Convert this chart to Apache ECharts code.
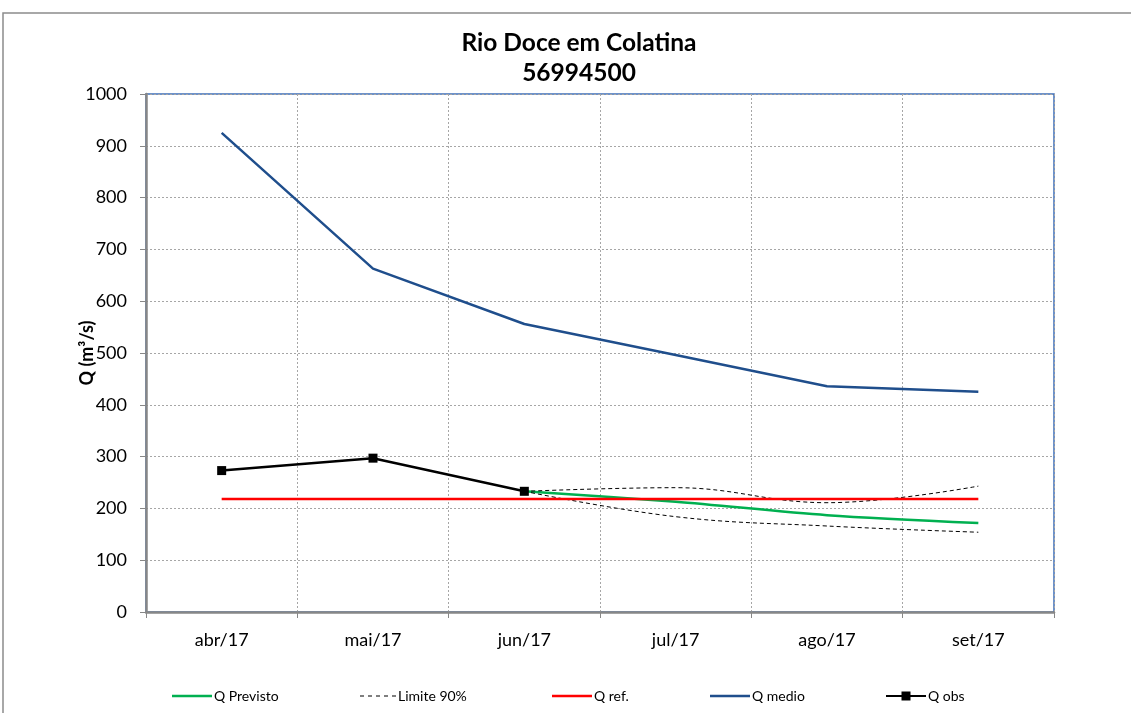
<!DOCTYPE html>
<html>
<head>
<meta charset="utf-8">
<script src="https://cdn.jsdelivr.net/npm/echarts@6/dist/echarts.min.js"></script>
<style>
  html, body { margin: 0; padding: 0; background: #ffffff; }
  #chart { width: 1131px; height: 713px; }
</style>
</head>
<body>
<div id="chart"></div>
<script>
// Monthly discharge at Colatina station (m³/s)
const months = ['abr/17', 'mai/17', 'jun/17', 'jul/17', 'ago/17', 'set/17'];
const qPrevisto = [null, null, 233, 213, 187, 172];
const lim90Sup = [null, null, 233, 240, 211, 243];
const lim90Inf = [null, null, 233, 184, 166, 154];
const qRef = [218, 218, 218, 218, 218, 218];
const qMedio = [925, 663, 556, 496, 436, 425];
const qObs = [273, 297, 233, null, null, null];
const yMin = 0, yMax = 1000, yStep = 100;

const FONT = 'Lato, "Open Sans", sans-serif';
const GRID_L = 146, GRID_T = 94, GRID_W = 908, GRID_H = 518;

// Legend glyphs: plain stroke, dashed stroke, stroke with a square marker
const ICON_LINE = 'path://M0,0H40V2.5H0Z';
const ICON_DASH = 'path://M0,0H4V1.2H0Z M8,0H12V1.2H8Z M16,0H20V1.2H16Z M24,0H28V1.2H24Z M32,0H36V1.2H32Z';
const ICON_MARK = 'path://M0,3.6H40V5.4H0Z M15.5,0H24.5V9H15.5Z';

const chart = echarts.init(document.getElementById('chart'), null, { renderer: 'canvas' });

function legendAt(name, left, icon, w, h) {
  return {
    data: [{ name: name, icon: icon }],
    left: left,
    top: 689,
    itemWidth: w,
    itemHeight: h,
    padding: 0,
    selectedMode: false,
    textStyle: { fontFamily: FONT, fontSize: 14, color: '#000', padding: [0, 0, 0, -3] }
  };
}

const option = {
  backgroundColor: '#ffffff',
  animation: false,
  title: {
    text: 'Rio Doce em Colatina\n56994500',
    left: 574,
    textAlign: 'center',
    top: 23,
    textStyle: { fontFamily: FONT, fontSize: 24.5, fontWeight: 'bold', color: '#000', lineHeight: 30 }
  },
  graphic: [{
    type: 'rect',
    shape: { x: 3, y: 13, width: 1300, height: 900 },
    style: { fill: 'none', stroke: '#8c8c8c', lineWidth: 1.5 },
    silent: true,
    z: -10
  }],
  legend: [
    legendAt('Q Previsto', 172, ICON_LINE, 40, 2.5),
    legendAt('Limite 90%', 360, ICON_DASH, 36, 1.2),
    legendAt('Q ref.', 552, ICON_LINE, 40, 2.5),
    legendAt('Q medio', 710, ICON_LINE, 40, 2.5),
    legendAt('Q obs', 886, ICON_MARK, 40, 9)
  ],
  grid: {
    left: GRID_L, top: GRID_T, width: GRID_W, height: GRID_H,
    show: true, borderColor: '#3f6fb8', borderWidth: 1.5, backgroundColor: 'transparent'
  },
  xAxis: {
    type: 'category',
    data: months,
    boundaryGap: true,
    axisLine: { lineStyle: { color: '#878787', width: 2.5 } },
    axisTick: { show: true, inside: false, length: 6, lineStyle: { color: '#878787', width: 1 } },
    axisLabel: { fontFamily: FONT, fontSize: 18, color: '#000', margin: 19 },
    splitLine: { show: true, lineStyle: { color: '#a6a6a6', type: [2, 2], width: 1 } }
  },
  yAxis: {
    type: 'value',
    min: yMin, max: yMax, interval: yStep,
    name: 'Q (m³/s)',
    nameLocation: 'middle',
    nameGap: 50,
    nameMoveOverlap: false,
    nameRotate: 90,
    nameTextStyle: { fontFamily: FONT, fontSize: 18, fontWeight: 'bold', color: '#000' },
    axisLine: { show: true, lineStyle: { color: '#878787', width: 2.5 } },
    axisTick: { show: true, inside: false, length: 6, lineStyle: { color: '#878787', width: 1 } },
    axisLabel: { fontFamily: FONT, fontSize: 18, color: '#000', margin: 19, formatter: v => String(v) },
    splitLine: { show: true, lineStyle: { color: '#a6a6a6', type: [2, 2], width: 1 } }
  },
  series: [
    {
      name: 'Q Previsto', type: 'line', data: qPrevisto, symbol: 'none', smooth: 0.3,
      lineStyle: { color: '#00b050', width: 2.5 }, itemStyle: { color: '#00b050' }, z: 2
    },
    {
      name: 'Limite 90%', type: 'line', data: lim90Sup, symbol: 'none', smooth: 0.4,
      lineStyle: { color: '#000', width: 1, type: [4, 3] }, itemStyle: { color: '#000' }, z: 3
    },
    {
      name: 'Limite 90%', type: 'line', data: lim90Inf, symbol: 'none', smooth: 0.4,
      lineStyle: { color: '#000', width: 1, type: [4, 3] }, itemStyle: { color: '#000' }, z: 3
    },
    {
      name: 'Q ref.', type: 'line', data: qRef, symbol: 'none',
      lineStyle: { color: '#ff0000', width: 2.5 }, itemStyle: { color: '#ff0000' }, z: 4
    },
    {
      name: 'Q medio', type: 'line', data: qMedio, symbol: 'none',
      lineStyle: { color: '#1f4e8c', width: 2.5 }, itemStyle: { color: '#1f4e8c' }, z: 5
    },
    {
      name: 'Q obs', type: 'line', data: qObs, symbol: 'rect', symbolSize: 9,
      lineStyle: { color: '#000', width: 2.5 }, itemStyle: { color: '#000' }, z: 6
    }
  ]
};

chart.setOption(option);
</script>
</body>
</html>
